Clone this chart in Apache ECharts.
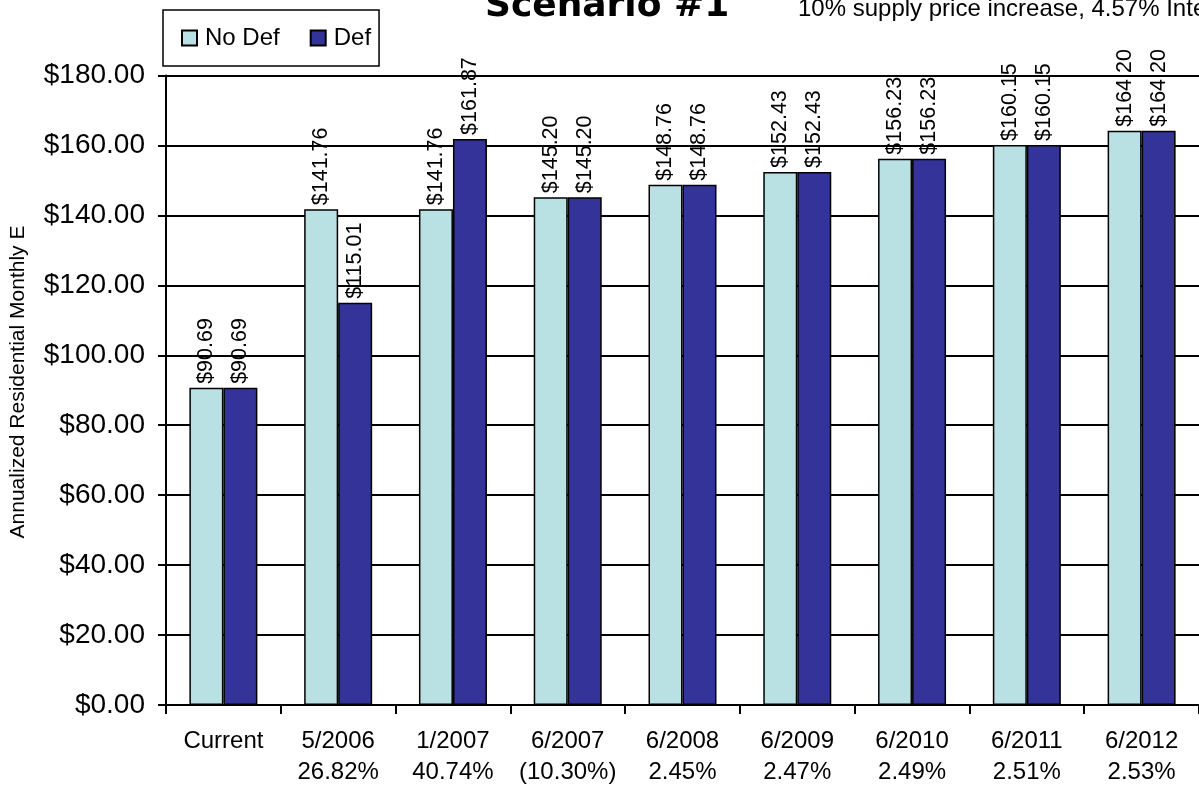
<!DOCTYPE html>
<html>
<head>
<meta charset="utf-8">
<title>Scenario #1</title>
<script src="https://cdn.jsdelivr.net/npm/echarts@6/dist/echarts.min.js"></script>
<style>
  html, body { margin: 0; padding: 0; background: #fff; }
  #chart { width: 1199px; height: 788px; }
</style>
</head>
<body>
<div id="chart"></div>
<script>
// Billing periods and the rate change that applies in each one
const periods = ['Current', '5/2006', '1/2007', '6/2007', '6/2008', '6/2009', '6/2010', '6/2011', '6/2012'];
const rateChanges = ['', '26.82%', '40.74%', '(10.30%)', '2.45%', '2.47%', '2.49%', '2.51%', '2.53%'];

// Annualized monthly bill, without and with deferral
const noDefValues = [90.69, 141.76, 141.76, 145.20, 148.76, 152.43, 156.23, 160.15, 164.20];
const defValues   = [90.69, 115.01, 161.87, 145.20, 148.76, 152.43, 156.23, 160.15, 164.20];

// Value axis ticks
const yMin = 0, yMax = 180, yStep = 20;

const FONT = '"Liberation Sans", Arial, sans-serif';
const categories = periods.map((p, i) => rateChanges[i] ? p + '\n' + rateChanges[i] : p);

const money = v => '$' + Number(v).toFixed(2);

const barLabel = {
  show: true,
  position: 'top',
  rotate: 90,
  align: 'left',
  verticalAlign: 'middle',
  distance: 8,
  offset: [-4, 0],
  fontFamily: FONT,
  fontSize: 21.5,
  color: '#000',
  formatter: p => money(p.value)
};

const chart = echarts.init(document.getElementById('chart'), null, { renderer: 'canvas' });

chart.setOption({
  backgroundColor: '#fff',
  animation: false,
  textStyle: { fontFamily: FONT, color: '#000' },
  grid: { left: 166, top: 75.5, bottom: 80.5, right: -4, containLabel: false },
  legend: {
    data: ['No Def', 'Def'],
    left: 163,
    top: 10,
    orient: 'horizontal',
    icon: 'rect',
    itemWidth: 15,
    itemHeight: 15,
    itemGap: 30,
    padding: [16, 8, 16, 18],
    borderColor: '#000',
    borderWidth: 1.5,
    backgroundColor: '#fff',
    textStyle: { fontFamily: FONT, fontSize: 24, color: '#000', padding: [0, 0, 0, 3] }
  },
  graphic: [
    {
      type: 'text',
      left: 485,
      top: -11,
      style: {
        text: 'Scenario #1',
        font: 'bold 36px "DejaVu Sans", sans-serif',
        fill: '#000'
      }
    },
    {
      type: 'text',
      x: 798,
      y: 21,
      style: {
        text: '10% supply price increase, 4.57% Interest',
        font: '24px "Liberation Sans", Arial, sans-serif',
        fill: '#000',
        textAlign: 'left',
        textVerticalAlign: 'bottom'
      }
    },
    {
      type: 'text',
      x: 18,
      y: 382,
      rotation: Math.PI / 2,
      style: {
        text: 'Annualized Residential Monthly E',
        font: '21px "Liberation Sans", Arial, sans-serif',
        fill: '#000',
        textAlign: 'center',
        textVerticalAlign: 'middle'
      }
    }
  ],
  xAxis: {
    type: 'category',
    data: categories,
    axisLine: { show: true, lineStyle: { color: '#000', width: 2 } },
    axisTick: { show: true, alignWithLabel: false, length: 9, lineStyle: { color: '#000', width: 2 } },
    axisLabel: {
      interval: 0,
      fontFamily: FONT,
      fontSize: 24,
      lineHeight: 31,
      color: '#000',
      margin: 21
    },
    splitLine: { show: false }
  },
  yAxis: {
    type: 'value',
    min: yMin,
    max: yMax,
    interval: yStep,
    axisLine: { show: true, lineStyle: { color: '#000', width: 2 } },
    axisTick: { show: true, inside: false, length: 8, lineStyle: { color: '#000', width: 2 } },
    axisLabel: {
      fontFamily: FONT,
      fontSize: 28,
      color: '#000',
      margin: 21,
      formatter: v => money(v)
    },
    splitLine: { show: true, lineStyle: { color: '#000', width: 2 } }
  },
  series: [
    {
      name: 'No Def',
      type: 'bar',
      data: noDefValues,
      barWidth: 34,
      barGap: '0%',
      itemStyle: { color: '#B9E0E3', borderColor: '#000', borderWidth: 1.5 },
      label: barLabel
    },
    {
      name: 'Def',
      type: 'bar',
      data: defValues,
      barWidth: 34,
      barGap: '0%',
      itemStyle: { color: '#333399', borderColor: '#000', borderWidth: 1.5 },
      label: barLabel
    }
  ]
});
</script>
</body>
</html>
